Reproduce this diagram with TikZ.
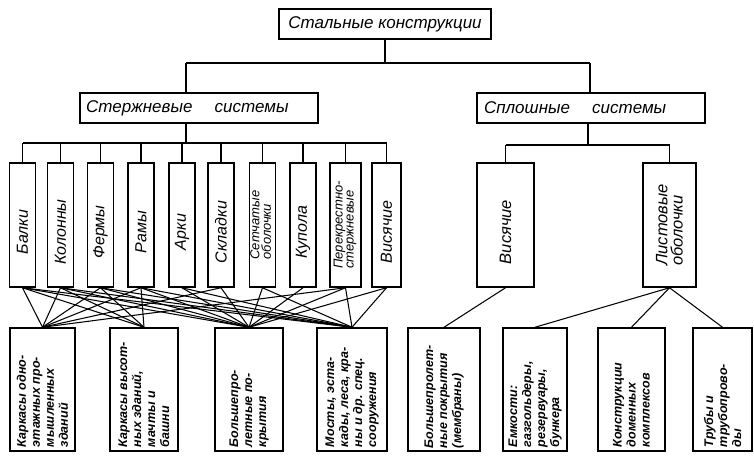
\documentclass[tikz,border=0pt]{standalone}
\usepackage{fontspec}
\setmainfont{Liberation Sans}
\usepackage{graphicx}
\newcommand\rodtext[1]{\rotatebox{90}{\makebox[112pt][c]{#1\hspace{14pt}}}}
\newcommand\twoline[2]{\rotatebox{90}{\fontsize{13}{13}\selectfont\itshape\begin{tabular}{@{}l@{}}#1\\[-2pt]#2\end{tabular}}}
\begin{document}
\begin{tikzpicture}[x=1pt,y=-1pt,
  box/.style={draw, line width=1.5pt, inner sep=0pt, anchor=center},
  head/.style={box, minimum height=30pt, font=\fontsize{17}{18}\selectfont\itshape},
  rod/.style={box, minimum height=124pt, font=\fontsize{16}{17}\selectfont\itshape},
  solid/.style={box, minimum height=124pt, font=\fontsize{16.5}{18}\selectfont\itshape},
  leaf/.style={box, minimum height=123pt, font=\fontsize{12.5}{14}\selectfont\bfseries\itshape},
  link/.style={line width=1.05pt}]
\useasboundingbox (0,0) rectangle (754,455);

% top
\node[head, minimum width=212pt] (top) at (385,24) {Стальные конструкции};
\node[head, minimum width=238pt, text width=226pt, align=left] (lsys) at (199,108) {Стержневые\hspace{1.3em}системы};
\node[head, minimum width=228pt, text width=214pt, align=left] (rsys) at (591,108) {Сплошные\hspace{1.3em}системы};

\coordinate (jl) at (186,63);
\coordinate (jr) at (590,63);
\draw[link] (jl) -- (jr);
\draw[link] (top.south) -- (top.south |- jl);
\draw[link] (jl) -- (jl |- lsys.north);
\draw[link] (jr) -- (jr |- rsys.north);

% rod systems
\node[rod, minimum width=26pt] (r1) at (22.5,225) {\rodtext{Балки}};
\node[rod, minimum width=26pt] (r2) at (60.5,225) {\rodtext{Колонны}};
\node[rod, minimum width=26pt] (r3) at (100.5,225) {\rodtext{Фермы}};
\node[rod, minimum width=26pt] (r4) at (141,225) {\rodtext{Рамы}};
\node[rod, minimum width=26pt] (r5) at (182,225) {\rodtext{Арки}};
\node[rod, minimum width=26pt] (r6) at (221,225) {\rodtext{Складки}};
\node[rod, minimum width=26pt] (r7) at (262.5,225) {\twoline{Сетчатые}{оболочки}};
\node[rod, minimum width=26pt] (r8) at (303,225) {\rodtext{Купола}};
\node[rod, minimum width=31pt] (r9) at (345.5,225) {\twoline{Перекрестно-}{стержневые}};
\node[rod, minimum width=29pt] (r10) at (386.5,225) {\rodtext{Висячие}};

\coordinate (lb) at (186,143);
\draw[link] (jl |- lsys.south) -- (lb);
\draw[link] (r1.north |- lb) -- (r10.north |- lb);
\foreach \r in {r1,r2,r3,r4,r5,r6,r7,r8,r9,r10}
  \draw[link] (\r.north |- lb) -- (\r.north);

% solid systems
\node[solid, minimum width=57pt] (s1) at (505.5,225) {\rodtext{Висячие}};
\node[solid, minimum width=53pt] (s2) at (669.5,225) {\rotatebox{90}{\shortstack[l]{Листовые\\оболочки}}};

\coordinate (rb) at (588,145);
\draw[link] (rb |- rsys.south) -- (rb);
\draw[link] (s1.north |- rb) -- (s2.north |- rb);
\draw[link] (s1.north |- rb) -- (s1.north);
\draw[link] (s2.north |- rb) -- (s2.north);

% leaves
\node[leaf, minimum width=65pt] (b1) at (42.5,389.5) {\rotatebox{90}{\parbox{115pt}{\raggedright Каркасы одно-\\этажных про-\\мышленных\\зданий}}};
\node[leaf, minimum width=68pt] (b2) at (144,389.5) {\rotatebox{90}{\parbox{115pt}{\raggedright Каркасы высот-\\ных зданий,\\мачты и\\башни}}};
\node[leaf, minimum width=68pt] (b3) at (249,389.5) {\rotatebox{90}{\parbox{115pt}{\raggedright Большепро-\\летные по-\\крытия}}};
\node[leaf, minimum width=70pt] (b4) at (352,389.5) {\rotatebox{90}{\parbox{115pt}{\raggedright Мосты, эста-\\кады, леса, кра-\\ны и др. спец.\\сооружения}}};
\node[leaf, minimum width=72pt] (b5) at (444,389.5) {\rotatebox{90}{\parbox{117pt}{\raggedright Большепролет-\\ные покрытия\\(мембраны)}}};
\node[leaf, minimum width=64pt] (b6) at (535,389.5) {\rotatebox{90}{\parbox{115pt}{\raggedright Емкости:\\газгольдеры,\\резервуары,\\бункера}}};
\node[leaf, minimum width=67pt] (b7) at (631.5,389.5) {\rotatebox{90}{\parbox{115pt}{\raggedright Конструкции\\доменных\\комплексов}}};
\node[leaf, minimum width=59pt] (b8) at (722.5,389.5) {\rotatebox{90}{\parbox{115pt}{\raggedright Трубы и\\трубопрово-\\ды}}};

% links rod -> fields
\foreach \a/\b in {r1/b1,r1/b2,r1/b3,r1/b4,
                   r2/b1,r2/b2,r2/b3,r2/b4,
                   r3/b1,r3/b2,r3/b3,r3/b4,
                   r4/b1,r4/b2,r4/b3,r4/b4,
                   r5/b3,r5/b4,
                   r6/b1,r6/b3,
                   r7/b3,r7/b4,
                   r8/b3,
                   r9/b1,r9/b3,r9/b4,
                   r10/b3,r10/b4,
                   s1/b5,
                   s2/b6,s2/b7,s2/b8}
  \draw[link] (\a.south) -- (\b.north);
\end{tikzpicture}
\end{document}
